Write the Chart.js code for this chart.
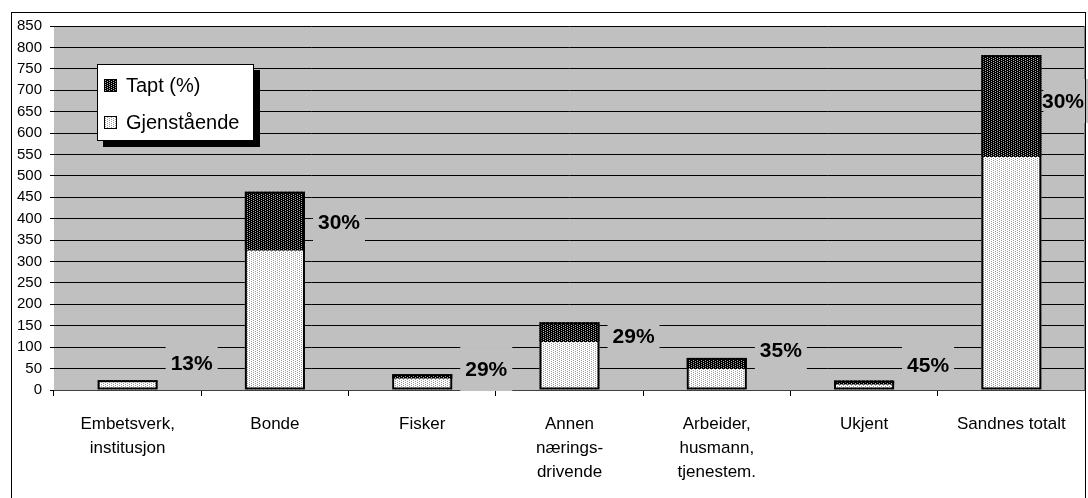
<!DOCTYPE html>
<html>
<head>
<meta charset="utf-8">
<script src="https://cdn.jsdelivr.net/npm/chart.js@4/dist/chart.umd.min.js"></script>
<style>
  html, body { margin: 0; padding: 0; background: #fff; }
  #wrap { position: relative; width: 1088px; height: 498px; }
</style>
</head>
<body>
<div id="wrap"><canvas id="tapChart" width="1088" height="498"></canvas></div>
<script>
// Data lest av bildet
const kategorier = [
  ['Embetsverk,', 'institusjon'],
  'Bonde',
  'Fisker',
  ['Annen', 'nærings-', 'drivende'],
  ['Arbeider,', 'husmann,', 'tjenestem.'],
  'Ukjent',
  'Sandnes totalt'
];
const gjenstaende = [20, 325, 26, 112, 49, 12, 544];
const tapt = [3, 138, 11, 46, 26, 10, 238];
const taptProsent = [13, 30, 29, 29, 35, 45, 30];
// hvor prosent-etiketten står (i verdier på y-aksen)
const etikettVerdi = [63, 393, 49, 126, 93, 58, 675];
const yMin = 0, yMax = 850, yStep = 50;

const FONT = '"Liberation Sans", Arial, sans-serif';
const canvas = document.querySelector('#tapChart');
const ctx0 = canvas.getContext('2d');

// prikkete fyll som i Excel
function lagMonster(bunn, prikk) {
  const t = document.createElement('canvas');
  t.width = 4; t.height = 2;
  const g = t.getContext('2d');
  g.fillStyle = bunn; g.fillRect(0, 0, 4, 2);
  g.fillStyle = prikk;
  g.fillRect(1, 0, 1, 1);
  g.fillRect(3, 1, 1, 1);
  return ctx0.createPattern(t, 'repeat');
}
const lysFyll = lagMonster('#ffffff', '#9a9a9a');
const morkFyll = lagMonster('#000000', '#b0b0b0');

// grå bakgrunn i plottet
const bakgrunn = {
  id: 'bakgrunn',
  beforeDraw(chart) {
    const { ctx, chartArea: a } = chart;
    ctx.save();
    ctx.fillStyle = '#c0c0c0';
    ctx.fillRect(a.left, a.top, a.right - a.left, a.bottom - a.top);
    ctx.restore();
  },
  beforeDatasetsDraw(chart) {
    const { ctx, chartArea: a } = chart;
    ctx.save();
    ctx.strokeStyle = '#808080';
    ctx.lineWidth = 1;
    ctx.beginPath();
    ctx.moveTo(a.right - 0.5, a.top);
    ctx.lineTo(a.right - 0.5, a.bottom);
    ctx.stroke();
    ctx.restore();
  }
};

// svart ramme rundt hver stabel
const stabelRamme = {
  id: 'stabelRamme',
  afterDatasetsDraw(chart) {
    const ctx = chart.ctx;
    const nede = chart.getDatasetMeta(0).data;
    const oppe = chart.getDatasetMeta(1).data;
    ctx.save();
    ctx.strokeStyle = '#000';
    ctx.lineWidth = 2;
    oppe.forEach((bar, i) => {
      const x0 = bar.x - bar.width / 2 + 1;
      const x1 = bar.x + bar.width / 2 - 1;
      const top = bar.y + 1;
      const bunn = nede[i].base - 1;
      ctx.strokeRect(x0, top, x1 - x0, bunn - top);
    });
    ctx.restore();
  }
};

// prosent-etiketter med grå boks
const prosentEtiketter = {
  id: 'prosentEtiketter',
  afterDatasetsDraw(chart) {
    const { ctx, chartArea: a } = chart;
    const y = chart.scales.y;
    const meta = chart.getDatasetMeta(1);
    ctx.save();
    ctx.font = 'bold 21px ' + FONT;
    ctx.textAlign = 'center';
    ctx.textBaseline = 'middle';
    meta.data.forEach((bar, i) => {
      const hoyre = bar.x + bar.width / 2;
      const cx = Math.min(hoyre + 34, a.right - 22);
      const cy = y.getPixelForValue(etikettVerdi[i]);
      const venstre = Math.max(cx - 26, hoyre + 2);
      ctx.fillStyle = '#c0c0c0';
      ctx.fillRect(venstre, cy - 22, cx + 26 - venstre, 44);
      ctx.fillStyle = '#000';
      ctx.fillText(taptProsent[i] + '%', cx, cy + 1);
    });
    ctx.restore();
  }
};

// forklaring og ytre ramme
const forklaring = {
  id: 'forklaring',
  afterDraw(chart) {
    const ctx = chart.ctx;
    ctx.save();
    ctx.fillStyle = '#000';
    ctx.fillRect(103, 70, 157, 77);
    ctx.fillStyle = '#fff';
    ctx.fillRect(97, 64, 157, 77);
    ctx.strokeStyle = '#000';
    ctx.lineWidth = 1;
    ctx.strokeRect(97.5, 64.5, 156, 76);

    const rader = [
      { tekst: chart.data.datasets[1].label, fyll: morkFyll, y: 85 },
      { tekst: chart.data.datasets[0].label, fyll: lysFyll, y: 122 }
    ];
    ctx.font = '20px ' + FONT;
    ctx.textBaseline = 'middle';
    rader.forEach(r => {
      ctx.fillStyle = r.fyll;
      ctx.fillRect(104, r.y - 6, 13, 13);
      ctx.strokeStyle = '#000';
      ctx.strokeRect(104.5, r.y - 5.5, 12, 12);
      ctx.fillStyle = '#000';
      ctx.fillText(r.tekst, 126, r.y + 1);
    });

    ctx.strokeStyle = '#000';
    ctx.strokeRect(11.5, 12.5, 1074, 500);
    ctx.restore();
  }
};

const tapData = {
  labels: kategorier,
  datasets: [
    {
      label: 'Gjenstående',
      data: gjenstaende,
      backgroundColor: lysFyll,
      borderWidth: 0
    }, {
      label: 'Tapt (%)',
      data: tapt,
      backgroundColor: morkFyll,
      borderWidth: 0
    }
  ]
};

const tapConfig = {
  type: 'bar',
  data: tapData,
  options: {
    responsive: false,
    animation: false,
    devicePixelRatio: 1,
    categoryPercentage: 0.408,
    barPercentage: 1,
    layout: { padding: { top: 26, right: 3, left: 0, bottom: 0 } },
    plugins: {
      legend: { display: false },
      tooltip: { enabled: false }
    },
    scales: {
      x: {
        stacked: true,
        afterFit(s) { s.height = 108; },
        grid: {
          offset: true,
          drawOnChartArea: false,
          drawTicks: true,
          tickLength: 6,
          color: '#000'
        },
        border: { color: '#404040', width: 1 },
        ticks: {
          color: '#000',
          padding: 16,
          maxRotation: 0,
          autoSkip: false,
          font: { family: FONT, size: 17, lineHeight: '24px' }
        }
      },
      y: {
        stacked: true,
        min: yMin,
        max: yMax,
        afterFit(s) { s.width = 54; },
        grid: { color: '#000', lineWidth: 1, tickLength: 4 },
        border: { display: false },
        ticks: {
          stepSize: yStep,
          color: '#000',
          padding: 8,
          font: { family: FONT, size: 15 }
        }
      }
    }
  },
  plugins: [bakgrunn, stabelRamme, prosentEtiketter, forklaring]
};

const tapChart = new Chart(canvas, tapConfig);
</script>
</body>
</html>
